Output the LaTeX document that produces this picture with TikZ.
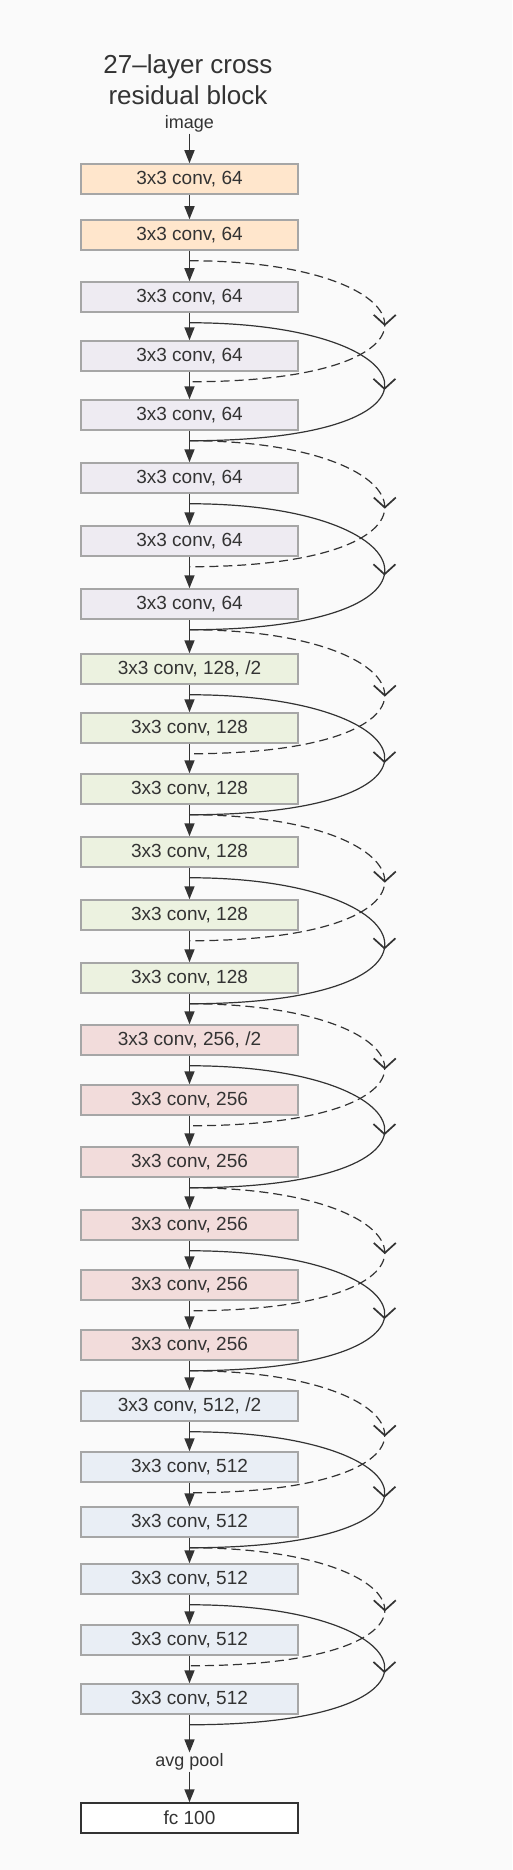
\documentclass[tikz,border=0pt]{standalone}
\usepackage{fontspec}
\setmainfont{Liberation Sans}
\usetikzlibrary{arrows.meta, positioning}
\definecolor{bgpaper}{HTML}{FAFAFA}
\definecolor{convorange}{HTML}{FFE6CC}
\definecolor{convpurple}{HTML}{EEEBF2}
\definecolor{convgreen}{HTML}{ECF2E0}
\definecolor{convpink}{HTML}{F2DCDB}
\definecolor{convblue}{HTML}{E9EEF5}
\definecolor{boxgray}{HTML}{A6A6A6}
\definecolor{inkgray}{HTML}{333333}

\begin{document}
\begin{tikzpicture}[
    x=1pt, y=-1pt,
    layer/.style={rectangle, draw=boxgray, line width=1.5pt, minimum width=217pt, minimum height=30pt, inner sep=0pt, text=inkgray, font=\fontsize{19}{22}\selectfont},
    caption/.style={inner sep=1pt, text=inkgray, font=\fontsize{18}{21}\selectfont},
    heading/.style={anchor=base, inner sep=0pt, text=inkgray, font=\fontsize{26}{31}\selectfont},
    flow/.style={-{Triangle[length=13pt,width=10pt]}, line width=1.5pt, draw=inkgray},
    skip/.style={line width=1.2pt, draw=inkgray},
    skipdash/.style={skip, dash pattern=on 9pt off 5pt},
    barb/.style={solid, line width=1.7pt, draw=inkgray, line join=miter}
]
\fill[bgpaper] (0,0) rectangle (512,1870);
\useasboundingbox (0,0) rectangle (512,1870);

% title and input
\node[heading] (title) at (188,74) {27–layer cross};
\node[heading] (title2) at (188,105) {residual block};
\node[caption] (img) at (189.5,124) {image};

% conv layers
\foreach \i/\y/\txt/\col in {
    1/179/{3x3 conv, 64}/convorange, 2/235/{3x3 conv, 64}/convorange,
    3/297/{3x3 conv, 64}/convpurple, 4/356/{3x3 conv, 64}/convpurple, 5/415/{3x3 conv, 64}/convpurple,
    6/478/{3x3 conv, 64}/convpurple, 7/541/{3x3 conv, 64}/convpurple, 8/604/{3x3 conv, 64}/convpurple,
    9/669/{3x3 conv, 128, /2}/convgreen, 10/728/{3x3 conv, 128}/convgreen, 11/789/{3x3 conv, 128}/convgreen,
    12/852/{3x3 conv, 128}/convgreen, 13/915/{3x3 conv, 128}/convgreen, 14/978/{3x3 conv, 128}/convgreen,
    15/1040/{3x3 conv, 256, /2}/convpink, 16/1100/{3x3 conv, 256}/convpink, 17/1162/{3x3 conv, 256}/convpink,
    18/1225/{3x3 conv, 256}/convpink, 19/1285/{3x3 conv, 256}/convpink, 20/1345/{3x3 conv, 256}/convpink,
    21/1406/{3x3 conv, 512, /2}/convblue, 22/1467/{3x3 conv, 512}/convblue, 23/1522/{3x3 conv, 512}/convblue,
    24/1579/{3x3 conv, 512}/convblue, 25/1640/{3x3 conv, 512}/convblue, 26/1699/{3x3 conv, 512}/convblue}
{
    \node[layer, fill=\col] (l\i) at (189.5,\y) {\txt};
    \coordinate (s\i) at ([yshift=-10pt]l\i.south);
}

% output
\node[caption] (pool) at (189.5,1762) {avg pool};
\node[layer, draw=inkgray, fill=white] (fc) at (189.5,1818) {fc 100};

% main path
\draw[flow] (img) -- (l1);
\foreach \i in {1,...,25} {
    \pgfmathtruncatemacro\j{\i+1}
    \draw[flow] (l\i) -- (l\j);
}
\draw[flow] (l26) -- (pool);
\draw[flow] (pool) -- (fc);

% cross shortcuts
\foreach \b in {3,6,...,24} {
    \pgfmathtruncatemacro\p{\b-1}
    \pgfmathtruncatemacro\q{\b+1}
    \pgfmathtruncatemacro\r{\b+2}
    \draw[skipdash] (s\p) .. controls +(240,0) and +(280,0) .. (s\q) coordinate[pos=0.52] (vd\b);
    \draw[skip] (s\b) .. controls +(240,0) and +(280,0) .. (s\r) coordinate[pos=0.54] (vs\b);
    \draw[barb] ([xshift=-11pt,yshift=10pt]vd\b) -- (vd\b) -- ([xshift=11pt,yshift=10pt]vd\b);
    \draw[barb] ([xshift=-11pt,yshift=10pt]vs\b) -- (vs\b) -- ([xshift=11pt,yshift=10pt]vs\b);
}
\end{tikzpicture}
\end{document}
